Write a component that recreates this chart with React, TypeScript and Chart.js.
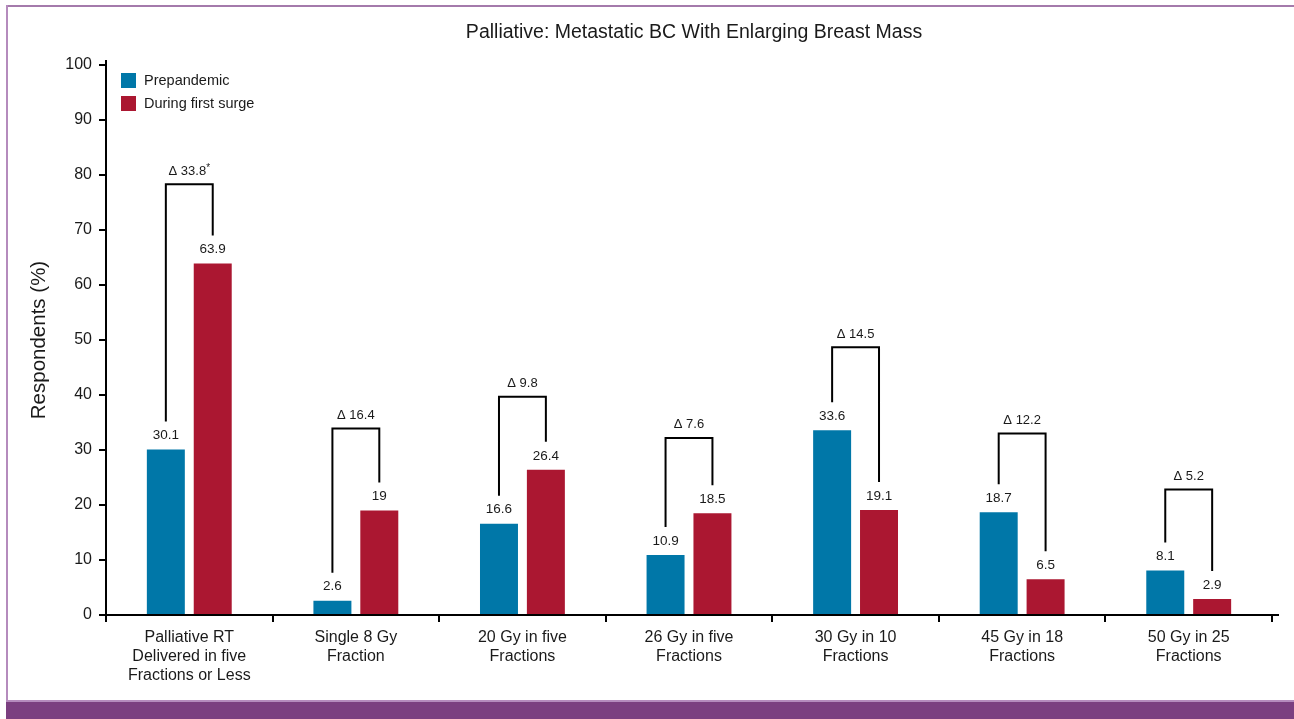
import React, { useEffect, useRef } from "react";
import { Chart, registerables } from "chart.js";

Chart.register(...registerables);

const chartTitle = "Palliative: Metastatic BC With Enlarging Breast Mass";
const categories: string[][] = [
  ["Palliative RT", "Delivered in five", "Fractions or Less"],
  ["Single 8 Gy", "Fraction"],
  ["20 Gy in five", "Fractions"],
  ["26 Gy in five", "Fractions"],
  ["30 Gy in 10", "Fractions"],
  ["45 Gy in 18", "Fractions"],
  ["50 Gy in 25", "Fractions"],
];
const prepandemic = [30.1, 2.6, 16.6, 10.9, 33.6, 18.7, 8.1];
const firstSurge = [63.9, 19, 26.4, 18.5, 19.1, 6.5, 2.9];
const deltaLabels = ["33.8", "16.4", "9.8", "7.6", "14.5", "12.2", "5.2"];
const deltaStar = [true, false, false, false, false, false, false];
const bracketLevel = [78.3, 33.9, 39.7, 32.2, 48.7, 33.0, 22.8];
const yTicks = [0, 10, 20, 30, 40, 50, 60, 70, 80, 90, 100];

const BLUE = "#0077a8";
const RED = "#ab1731";
const FONT = "'Liberation Sans', Arial, Helvetica, sans-serif";

const annotate = {
  id: "annotate",
  afterDatasetsDraw(chart: any) {
    const ctx = chart.ctx as CanvasRenderingContext2D;
    const m0 = chart.getDatasetMeta(0);
    const m1 = chart.getDatasetMeta(1);
    const y = chart.scales.y;
    const area = chart.chartArea;
    ctx.save();
    // title
    ctx.fillStyle = "#1a1a1a";
    ctx.font = `19.5px ${FONT}`;
    ctx.textAlign = "center";
    ctx.textBaseline = "middle";
    ctx.fillText(chartTitle, (area.left + area.right + 10) / 2, area.top - 32);
    // axis overshoots
    ctx.strokeStyle = "#000";
    ctx.lineWidth = 2;
    ctx.beginPath();
    ctx.moveTo(area.left, area.top);
    ctx.lineTo(area.left, area.top - 5);
    ctx.moveTo(area.right, area.bottom);
    ctx.lineTo(area.right + 7, area.bottom);
    ctx.stroke();

    ctx.fillStyle = "#1a1a1a";
    for (let i = 0; i < categories.length; i++) {
      const b = m0.data[i];
      const r = m1.data[i];
      ctx.font = `13.5px ${FONT}`;
      ctx.fillText(String(prepandemic[i]), b.x, b.y - 14);
      ctx.fillText(String(firstSurge[i]), r.x, r.y - 14);
      const top = y.getPixelForValue(bracketLevel[i]);
      ctx.beginPath();
      ctx.lineWidth = 2;
      ctx.strokeStyle = "#000";
      ctx.moveTo(b.x, b.y - 28);
      ctx.lineTo(b.x, top);
      ctx.lineTo(r.x, top);
      ctx.lineTo(r.x, r.y - 28);
      ctx.stroke();
      const mid = (b.x + r.x) / 2;
      const txt = "\u0394 " + deltaLabels[i];
      ctx.font = `13px ${FONT}`;
      if (deltaStar[i]) {
        const w = ctx.measureText(txt).width;
        ctx.font = `10px ${FONT}`;
        const ws = ctx.measureText("*").width;
        ctx.font = `13px ${FONT}`;
        ctx.textAlign = "left";
        const sx = mid - (w + ws) / 2;
        ctx.fillText(txt, sx, top - 13);
        ctx.font = `10px ${FONT}`;
        ctx.fillText("*", sx + w, top - 16);
        ctx.textAlign = "center";
      } else {
        ctx.fillText(txt, mid, top - 13);
      }
    }
    // legend
    const lx = area.left + 15;
    const items = [
      { c: BLUE, t: chart.data.datasets[0].label },
      { c: RED, t: chart.data.datasets[1].label },
    ];
    items.forEach((it, k) => {
      const ty = area.top + 8 + k * 23;
      ctx.fillStyle = it.c;
      ctx.fillRect(lx, ty, 15, 15);
      ctx.fillStyle = "#1a1a1a";
      ctx.textAlign = "left";
      ctx.font = `14.5px ${FONT}`;
      ctx.fillText(it.t, lx + 23, ty + 8);
    });
    ctx.restore();
  },
};

export default function App() {
  const ref = useRef<HTMLCanvasElement>(null);
  useEffect(() => {
    if (!ref.current) return;
    const chart = new Chart(ref.current, {
      type: "bar",
      data: {
        labels: categories,
        datasets: [
          { label: "Prepandemic", data: prepandemic, backgroundColor: BLUE },
          { label: "During first surge", data: firstSurge, backgroundColor: RED },
        ],
      },
      options: {
        responsive: false,
        animation: false,
        devicePixelRatio: 1,
        layout: { padding: { left: 0, right: 22, top: 65, bottom: 0 } },
        datasets: { bar: { categoryPercentage: 0.563, barPercentage: 0.81 } },
        plugins: {
          legend: { display: false },
          tooltip: { enabled: false },
          title: { display: false },
        },
        scales: {
          x: {
            grid: { drawOnChartArea: false, offset: true, tickLength: 7, color: "#000", lineWidth: 2 },
            border: { color: "#000", width: 2 },
            ticks: { color: "#1a1a1a", font: { family: FONT, size: 16, lineHeight: 1.2 }, padding: 6, maxRotation: 0, autoSkip: false },
            afterFit: (s: any) => { s.height = 104; },
          },
          y: {
            min: 0,
            max: 100,
            afterBuildTicks: (s: any) => { s.ticks = yTicks.map((v) => ({ value: v })); },
            grid: { drawOnChartArea: false, tickLength: 7, color: "#000", lineWidth: 2 },
            border: { color: "#000", width: 2 },
            ticks: { color: "#1a1a1a", font: { family: FONT, size: 16 }, padding: 7 },
            title: {
              display: true,
              text: "Respondents (%)",
              color: "#1a1a1a",
              font: { family: FONT, size: 20.5 },
              padding: { top: 27, bottom: 0 },
            },
            afterFit: (s: any) => { s.width = 106; },
          },
        },
      },
      plugins: [annotate],
    });
    return () => chart.destroy();
  }, []);
  return (
    <div style={{ position: "fixed", left: 0, top: 0, width: 1294, height: 719, background: "#fff", overflow: "hidden" }}>
      <canvas ref={ref} width={1294} height={719} style={{ position: "absolute", left: 0, top: 0 }} />
      <div style={{ position: "absolute", left: 6, top: 5, width: 1288, height: 2, background: "#a47aab" }} />
      <div style={{ position: "absolute", left: 6, top: 5, width: 2, height: 696, background: "#b58bbd" }} />
      <div style={{ position: "absolute", left: 6, top: 700, width: 1288, height: 2, background: "#b58bbd" }} />
      <div style={{ position: "absolute", left: 6, top: 702, width: 1288, height: 17, background: "#7b3f80" }} />
    </div>
  );
}
